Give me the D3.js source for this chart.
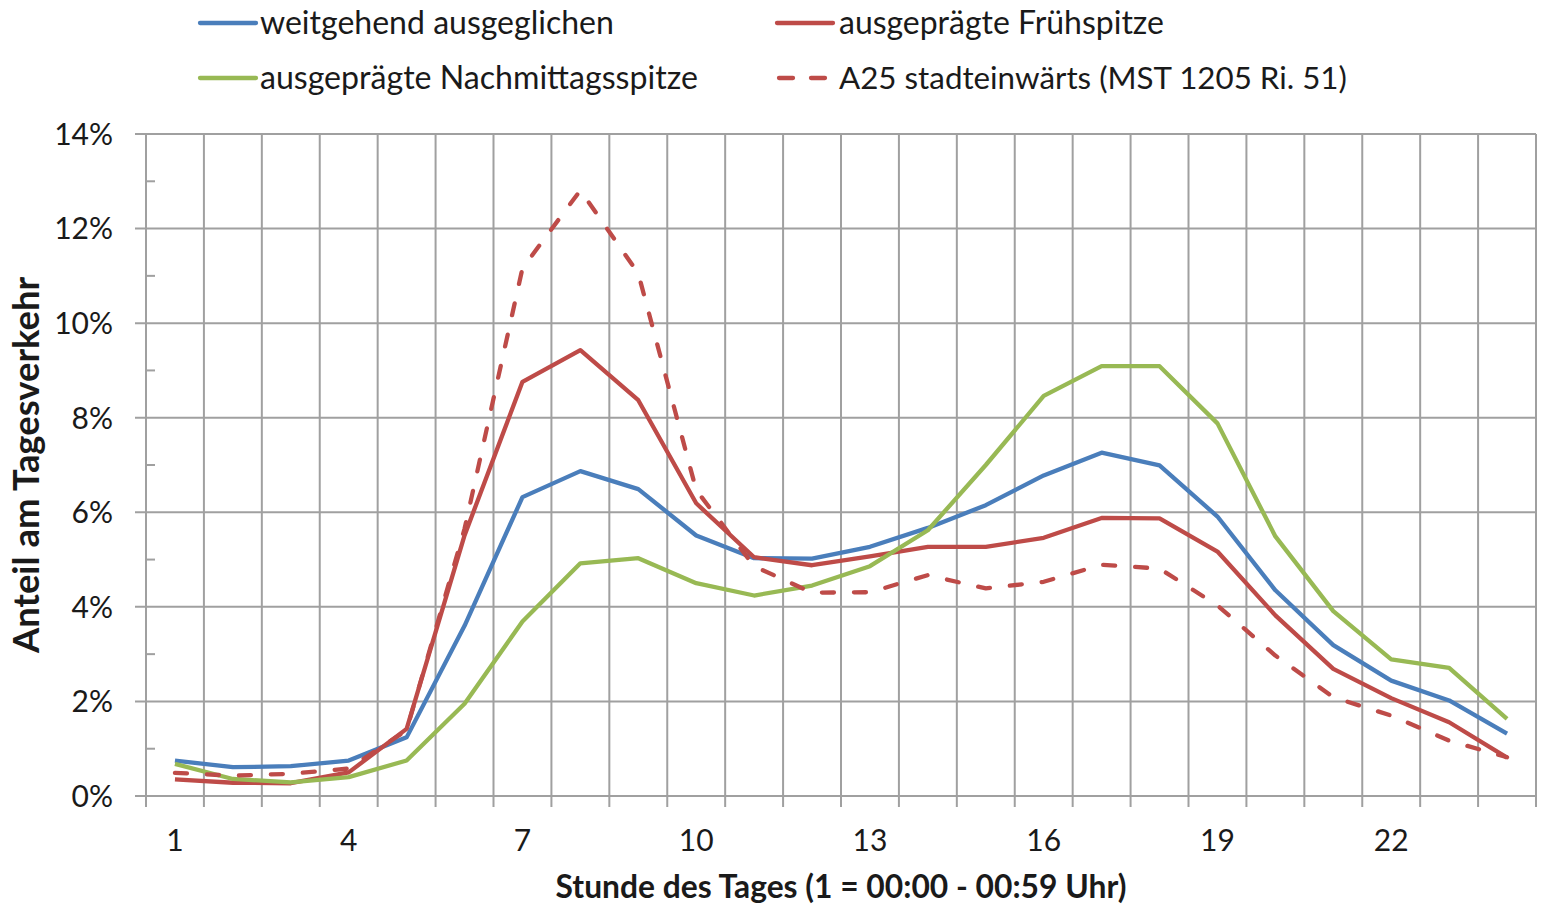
<!DOCTYPE html>
<html>
<head>
<meta charset="utf-8">
<script src="https://cdn.jsdelivr.net/npm/d3@7"></script>
<style>
  html, body { margin: 0; padding: 0; background: #fff; }
  svg { display: block; font-family: Lato, "Open Sans", sans-serif; }
</style>
</head>
<body>
<svg id="chart" width="1543" height="906"></svg>
<script>
// Hour of day (1 = 00:00 - 00:59)
const hours = d3.range(1, 25);

// Hourly share of daily traffic, in percent
const weitgehendAusgeglichen = [0.75, 0.61, 0.63, 0.75, 1.24, 3.6, 6.32, 6.87, 6.49, 5.51, 5.03, 5.02,
                                5.27, 5.67, 6.15, 6.78, 7.26, 6.99, 5.91, 4.35, 3.19, 2.44, 2.02, 1.32];
const fruehspitze = [0.35, 0.28, 0.27, 0.5, 1.42, 5.51, 8.76, 9.43, 8.37, 6.19, 5.05, 4.88,
                     5.07, 5.27, 5.27, 5.46, 5.88, 5.87, 5.17, 3.82, 2.69, 2.07, 1.56, 0.81];
const nachmittagsspitze = [0.68, 0.36, 0.29, 0.4, 0.75, 1.95, 3.69, 4.92, 5.03, 4.5, 4.24, 4.45,
                           4.86, 5.62, 7.0, 8.46, 9.09, 9.09, 7.88, 5.49, 3.91, 2.89, 2.71, 1.63];
const a25Stadteinwaerts = [0.49, 0.43, 0.47, 0.58, 1.39, 5.65, 11.16, 12.81, 11.05, 6.47, 4.86, 4.3,
                           4.31, 4.67, 4.39, 4.53, 4.89, 4.81, 4.03, 2.97, 2.09, 1.7, 1.17, 0.82];

const seriesNames = ["weitgehend ausgeglichen", "ausgeprägte Frühspitze",
                     "ausgeprägte Nachmittagsspitze", "A25 stadteinwärts (MST 1205 Ri. 51)"];
const seriesValues = [weitgehendAusgeglichen, fruehspitze, nachmittagsspitze, a25Stadteinwaerts];
const seriesColors = ["#4a7ebb", "#be4b48", "#98b954", "#be4b48"];
const seriesDashed = [false, false, false, true];

const yTicks = [0, 2, 4, 6, 8, 10, 12, 14];
const yMinorTicks = [1, 3, 5, 7, 9, 11, 13];
const xTickLabels = [1, 4, 7, 10, 13, 16, 19, 22];

const xTitle = "Stunde des Tages (1 = 00:00 - 00:59 Uhr)";
const yTitle = "Anteil am Tagesverkehr";

const svg = d3.select("#chart");
const plot = { left: 146, right: 1536, top: 134, bottom: 796 };
const gridColor = "#a0a0a0";
const textColor = "#1a1a1a";

const x = d3.scaleBand().domain(hours).range([plot.left, plot.right]).padding(0);
const xc = h => x(h) + x.bandwidth() / 2;
const y = d3.scaleLinear().domain([0, 14]).range([plot.bottom, plot.top]);

// shrink or grow a text element's font size so it spans the given width
function fitWidth(sel, target) {
  sel.each(function () {
    const fs = parseFloat(d3.select(this).attr("font-size"));
    const w = this.getComputedTextLength();
    d3.select(this).attr("font-size", (fs * target / w).toFixed(2));
  });
}

// horizontal gridlines and major ticks
const gGrid = svg.append("g");
gGrid.selectAll("line.h").data(yTicks).join("line")
  .attr("x1", plot.left - 11).attr("x2", plot.right)
  .attr("y1", d => y(d)).attr("y2", d => y(d))
  .attr("stroke", gridColor).attr("stroke-width", 2);

// vertical gridlines at category boundaries (plus tick stubs below the axis)
const boundaries = hours.map(h => x(h)).concat([plot.right]);
gGrid.selectAll("line.v").data(boundaries).join("line")
  .attr("x1", d => d).attr("x2", d => d)
  .attr("y1", plot.top).attr("y2", plot.bottom + 11)
  .attr("stroke", gridColor).attr("stroke-width", 2);

// minor ticks on the value axis, inside the plot
gGrid.selectAll("line.m").data(yMinorTicks).join("line")
  .attr("x1", plot.left).attr("x2", plot.left + 9)
  .attr("y1", d => y(d)).attr("y2", d => y(d))
  .attr("stroke", gridColor).attr("stroke-width", 2);

// value axis labels
svg.append("g").selectAll("text").data(yTicks).join("text")
  .attr("x", 113).attr("y", d => y(d)).attr("dy", "0.36em")
  .attr("text-anchor", "end").attr("font-size", 30).attr("fill", textColor)
  .text(d => d + "%");

// category axis labels
svg.append("g").selectAll("text").data(xTickLabels).join("text")
  .attr("x", d => xc(d)).attr("y", 851)
  .attr("text-anchor", "middle").attr("font-size", 30).attr("fill", textColor)
  .text(d => d);

// axis titles
svg.append("text")
  .attr("x", 841).attr("y", 898).attr("text-anchor", "middle")
  .attr("font-size", 28).attr("font-weight", "bold").attr("fill", textColor)
  .text(xTitle).call(fitWidth, 571);

svg.append("text")
  .attr("transform", "translate(39,465) rotate(-90)").attr("text-anchor", "middle")
  .attr("font-size", 28).attr("font-weight", "bold").attr("fill", textColor)
  .text(yTitle).call(fitWidth, 376);

// series lines
const line = d3.line().x((d, i) => xc(hours[i])).y(d => y(d));
svg.append("g").selectAll("path").data(seriesValues).join("path")
  .attr("d", d => line(d))
  .attr("fill", "none")
  .attr("stroke", (d, i) => seriesColors[i])
  .attr("stroke-width", 4.3)
  .attr("stroke-linejoin", "round")
  .attr("stroke-linecap", (d, i) => seriesDashed[i] ? "round" : "butt")
  .attr("stroke-dasharray", (d, i) => seriesDashed[i] ? "12,20" : null);

// legend: two rows, two columns
const legendPos = [
  { lx: 200, tx: 260, ty: 23, w: 354 },
  { lx: 777, tx: 839, ty: 23, w: 325 },
  { lx: 200, tx: 260, ty: 78, w: 438 },
  { lx: 777, tx: 839, ty: 78, w: 508 }
];
const legend = svg.append("g");
seriesNames.forEach((name, i) => {
  const p = legendPos[i];
  legend.append("line")
    .attr("x1", p.lx + (seriesDashed[i] ? 2 : 0)).attr("x2", p.lx + 56)
    .attr("y1", p.ty).attr("y2", p.ty)
    .attr("stroke", seriesColors[i]).attr("stroke-width", 4.3)
    .attr("stroke-linecap", "round")
    .attr("stroke-dasharray", seriesDashed[i] ? "14,18" : null);
  legend.append("text")
    .attr("x", p.tx).attr("y", p.ty).attr("dy", "0.34em")
    .attr("font-size", 29).attr("fill", textColor)
    .text(name).call(fitWidth, p.w);
});
</script>
</body>
</html>
